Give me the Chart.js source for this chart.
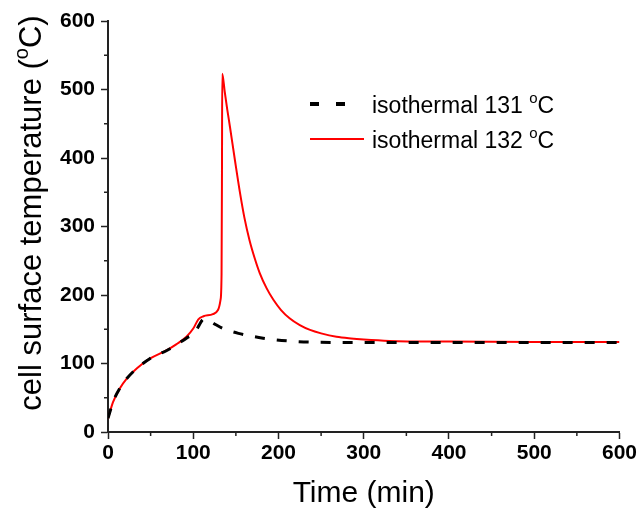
<!DOCTYPE html>
<html>
<head>
<meta charset="utf-8">
<script src="https://cdn.jsdelivr.net/npm/chart.js@4"></script>
<style>
  html, body { margin: 0; padding: 0; background: #fff; }
  #wrap { width: 639px; height: 514px; }
</style>
</head>
<body>
<div id="wrap"><canvas id="tempChart" width="639" height="514"></canvas></div>
<script>
// isothermal 131 C run (dashed black)
const time131 = [0, 6, 14, 22, 34, 49, 69, 80, 92, 102, 107, 112, 118, 126, 135, 153, 182, 210, 245, 300, 400, 500, 600];
const temp131 = [20, 44, 64, 78, 93, 107, 119, 127, 137, 145, 156, 164.5, 163, 157, 151, 144, 137, 133, 131, 130.7, 130.5, 130.5, 130.5];

// isothermal 132 C run (red) - thermal runaway around 134 min
const time132 = [0, 6, 14, 22, 34, 49, 69, 80, 92, 100, 106, 112, 123, 129, 132, 133.2, 133.7, 134, 137, 140, 143, 149, 155, 160, 166, 172, 178, 186, 194, 203, 213, 225, 237, 250, 268, 285, 300, 330, 400, 500, 600];
const temp132 = [20, 44, 64, 78, 93, 107, 119.5, 128, 139, 151, 164.5, 169, 172, 178, 193, 230, 380, 523, 496, 470, 446, 396, 348, 313, 280, 254, 232, 210, 193, 178, 166, 156, 149, 144, 139, 136.5, 135, 133, 132, 131.5, 131.5];

const xTicks = [0, 100, 200, 300, 400, 500, 600];
const yTicks = [0, 100, 200, 300, 400, 500, 600];
const legendLabels = ['isothermal 131', 'isothermal 132'];
const xTitle = 'Time (min)';
const yTitle = 'cell surface temperature';

const toPoints = (xs, ys) => xs.map((x, i) => ({x: x, y: ys[i]}));

const axisColor = '#222';
const fontFamily = '"Liberation Sans", Arial, sans-serif';

// writes "<text> (°C)" style labels with a raised small o, the way the original does
const degreeParts = (text, size, paren) => [
  {s: text + (paren ? ' (' : ' '), size: size, rise: 0},
  {s: 'o', size: Math.round(size * 0.66), rise: size * 0.42},
  {s: paren ? 'C)' : 'C', size: size, rise: 0},
];

const drawParts = (ctx, parts, x, y) => {
  let w = 0;
  parts.forEach(p => {
    ctx.font = p.size + 'px ' + fontFamily;
    ctx.fillText(p.s, x + w, y - p.rise);
    w += ctx.measureText(p.s).width;
  });
  return w;
};

const partsWidth = (ctx, parts) => parts.reduce((w, p) => {
  ctx.font = p.size + 'px ' + fontFamily;
  return w + ctx.measureText(p.s).width;
}, 0);

// minor ticks halfway between majors, the y title and the in-plot legend
const extrasPlugin = {
  id: 'extras',
  afterDraw(chart) {
    const ctx = chart.ctx;
    const xs = chart.scales.x;
    const ys = chart.scales.y;
    const area = chart.chartArea;
    ctx.save();
    ctx.strokeStyle = axisColor;
    ctx.lineWidth = 1.5;
    for (let v = 50; v < 600; v += 100) {
      const px = xs.getPixelForValue(v);
      ctx.beginPath();
      ctx.moveTo(px, area.bottom);
      ctx.lineTo(px, area.bottom + 4);
      ctx.stroke();
      const py = ys.getPixelForValue(v);
      ctx.beginPath();
      ctx.moveTo(area.left, py);
      ctx.lineTo(area.left - 4, py);
      ctx.stroke();
    }

    ctx.textBaseline = 'alphabetic';
    ctx.fillStyle = '#000';

    // y axis title, rotated
    const yParts = degreeParts(yTitle, 31, true);
    const yw = partsWidth(ctx, yParts);
    ctx.save();
    ctx.translate(41, 213);
    ctx.rotate(-Math.PI / 2);
    drawParts(ctx, yParts, -yw / 2, 0);
    ctx.restore();

    // legend
    ctx.strokeStyle = '#000';
    ctx.lineWidth = 4;
    ctx.beginPath();
    ctx.moveTo(310, 104);
    ctx.lineTo(319, 104);
    ctx.moveTo(336, 104);
    ctx.lineTo(345, 104);
    ctx.stroke();
    ctx.strokeStyle = '#ff0000';
    ctx.lineWidth = 2;
    ctx.beginPath();
    ctx.moveTo(310, 139);
    ctx.lineTo(364, 139);
    ctx.stroke();
    drawParts(ctx, degreeParts(legendLabels[0], 23, false), 372, 113);
    drawParts(ctx, degreeParts(legendLabels[1], 23, false), 372, 148);
    ctx.restore();
  }
};

const tickFont = {family: fontFamily, size: 21, weight: 'bold'};
const titleFont = {family: fontFamily, size: 30};

new Chart(document.getElementById('tempChart').getContext('2d'), {
  type: 'line',
  data: {
    datasets: [
      {
        label: legendLabels[0],
        data: toPoints(time131, temp131),
        borderColor: '#000',
        borderWidth: 3,
        borderDash: [10, 12],
        pointRadius: 0,
        cubicInterpolationMode: 'monotone',
        fill: false,
      },
      {
        label: legendLabels[1],
        data: toPoints(time132, temp132),
        borderColor: '#ff0000',
        borderWidth: 2,
        pointRadius: 0,
        cubicInterpolationMode: 'monotone',
        fill: false,
      },
    ],
  },
  options: {
    responsive: false,
    animation: false,
    layout: {padding: {top: 21, right: 19, left: 0, bottom: 0}},
    plugins: {
      legend: {display: false},
      tooltip: {enabled: false},
    },
    scales: {
      x: {
        type: 'linear',
        min: 0,
        max: 600,
        afterBuildTicks: (s) => { s.ticks = xTicks.map(v => ({value: v})); },
        ticks: {color: '#000', font: tickFont, padding: 2, maxRotation: 0},
        grid: {drawOnChartArea: false, drawTicks: true, tickLength: 7, tickColor: axisColor, tickWidth: 1.5},
        border: {color: axisColor, width: 2},
        title: {display: true, text: xTitle, color: '#000', font: titleFont, padding: {top: 4, bottom: 2}},
        afterFit: (s) => { s.height = 82; },
      },
      y: {
        type: 'linear',
        min: 0,
        max: 600,
        afterBuildTicks: (s) => { s.ticks = yTicks.map(v => ({value: v})); },
        ticks: {color: '#000', font: tickFont, padding: 6},
        grid: {drawOnChartArea: false, drawTicks: true, tickLength: 7, tickColor: axisColor, tickWidth: 1.5},
        border: {color: axisColor, width: 2},
        afterFit: (s) => { s.width = 108; },
      },
    },
  },
  plugins: [extrasPlugin],
});
</script>
</body>
</html>
